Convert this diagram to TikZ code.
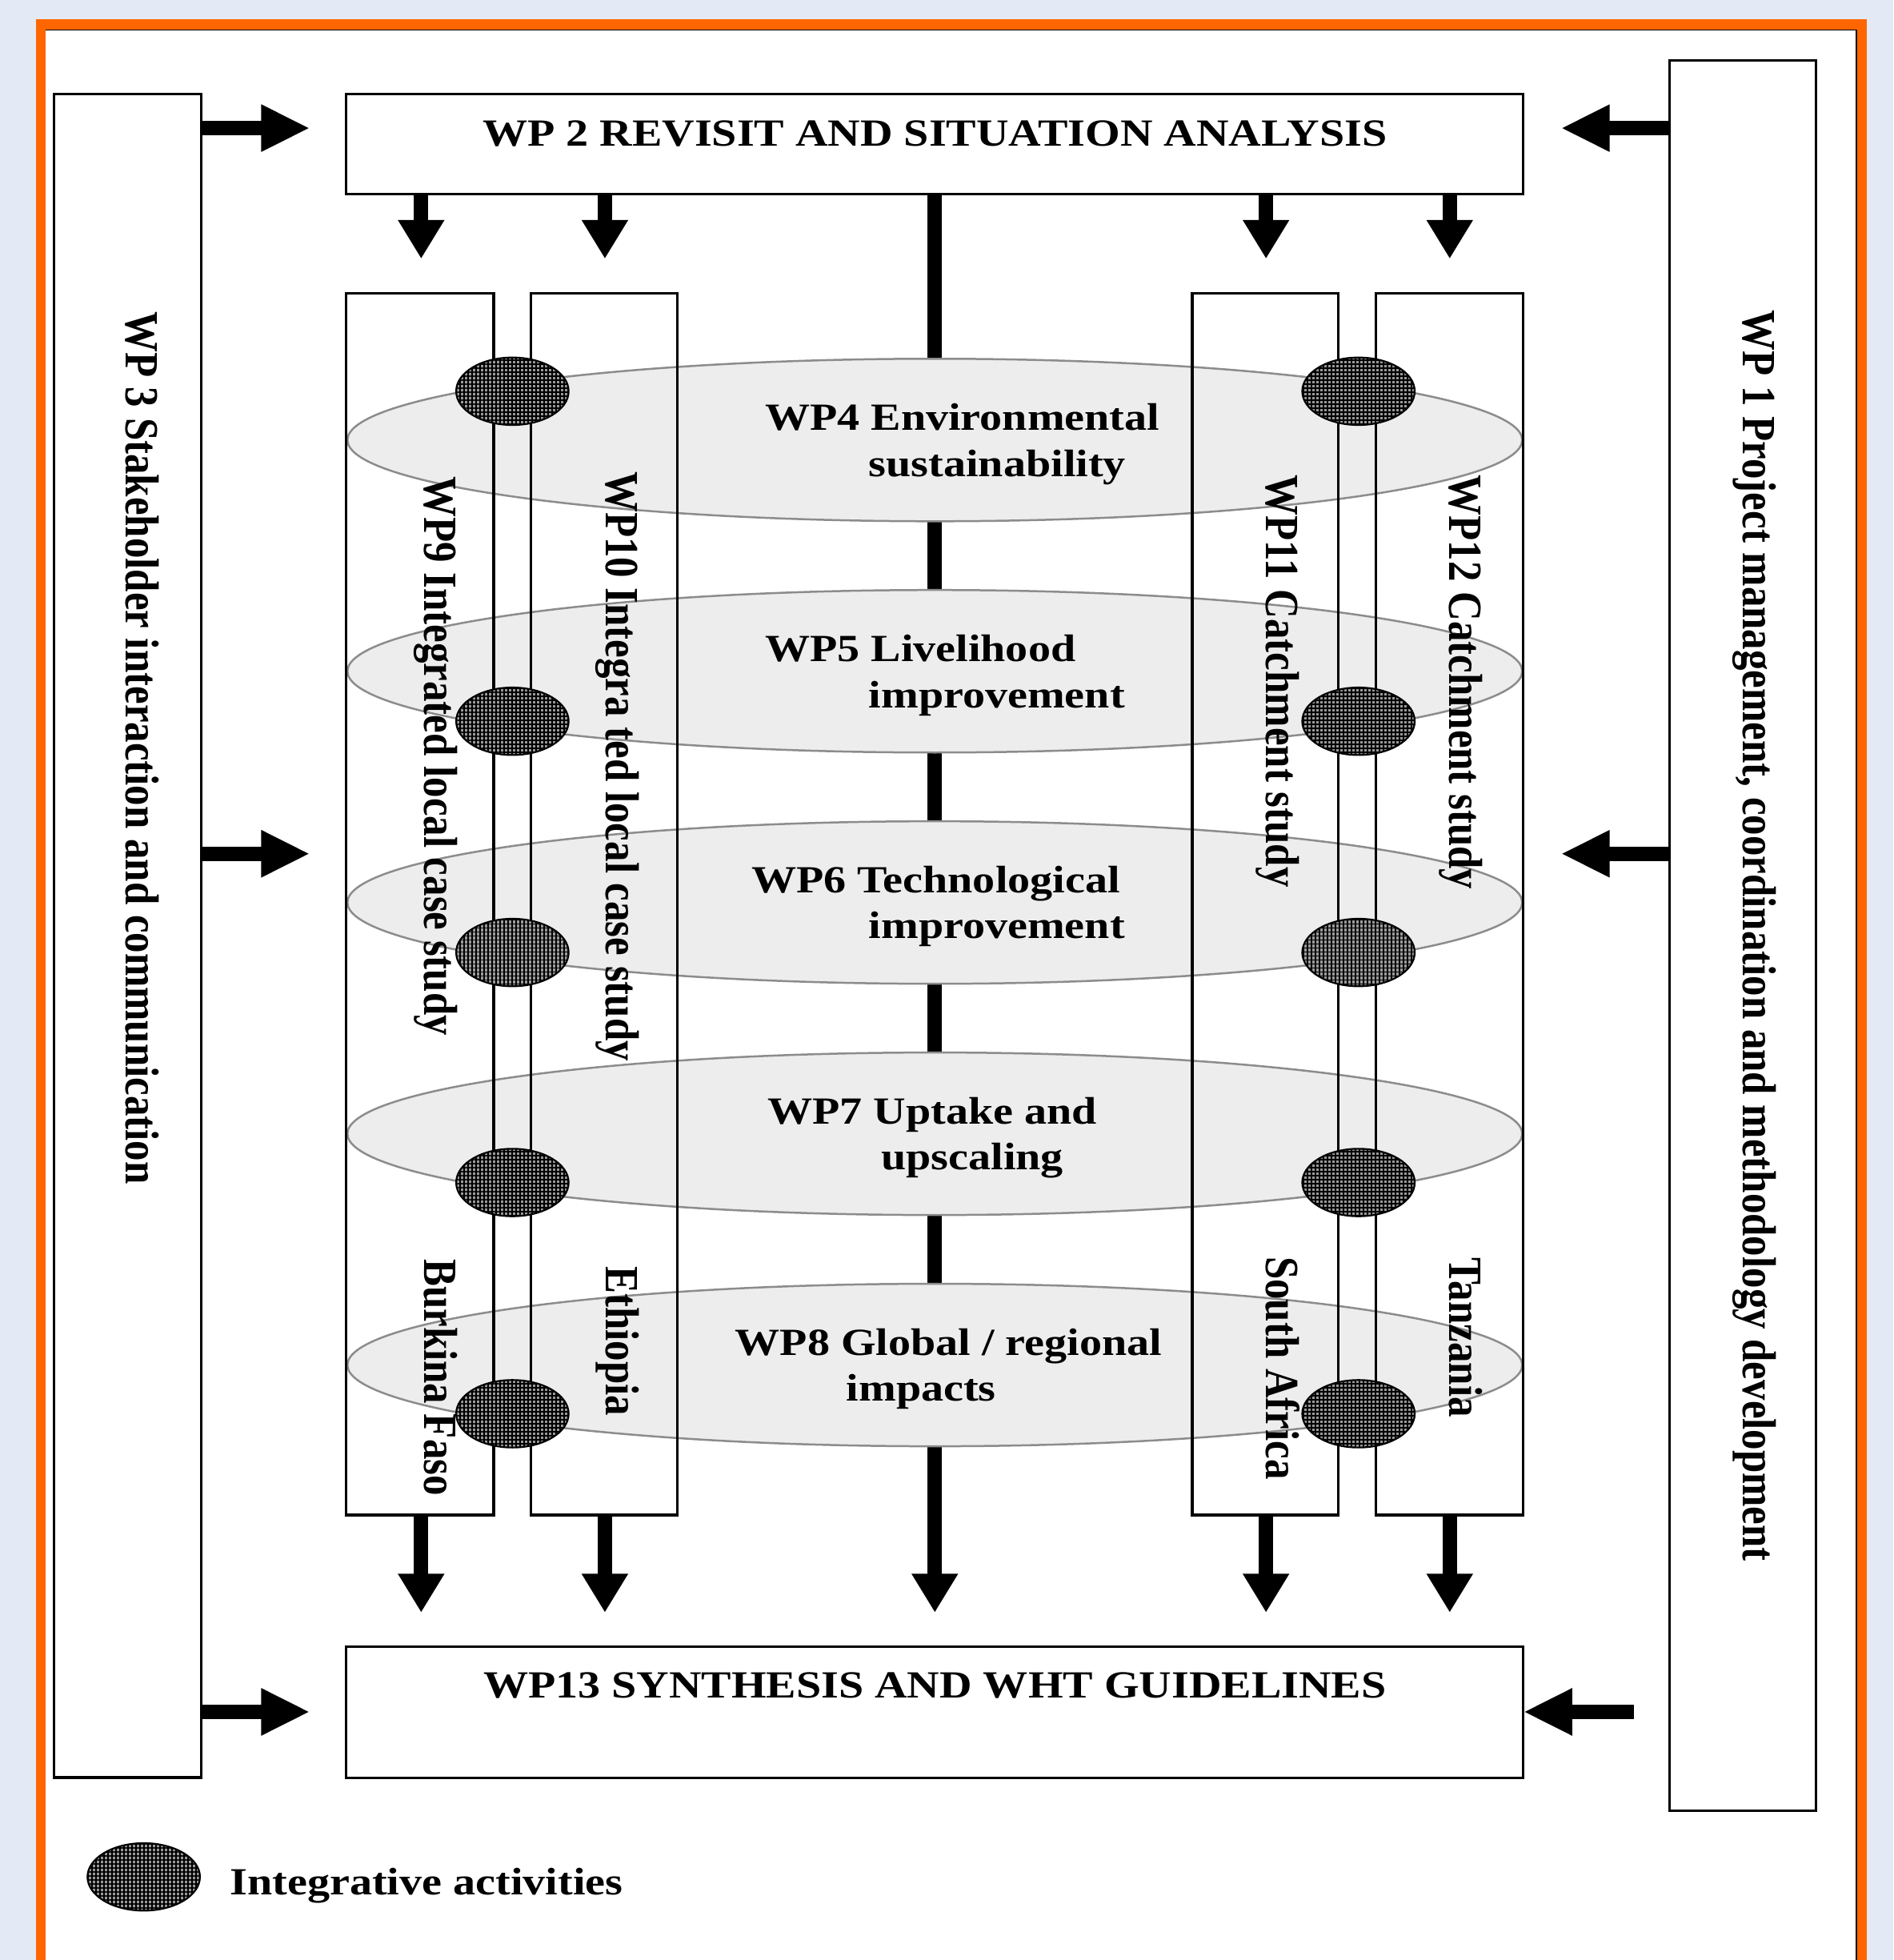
\documentclass[tikz,border=0pt]{standalone}
\usepackage{graphicx}
\usepackage{fontspec}
\setmainfont{Liberation Serif}
\newfontfamily\hfont{Liberation Serif}[FakeStretch=1.17]
\usetikzlibrary{arrows.meta,shapes.geometric,patterns.meta}
\definecolor{bgblue}{RGB}{227,234,246}
\definecolor{frameorange}{RGB}{255,102,0}
\definecolor{ellfill}{RGB}{237,237,237}
\definecolor{elledge}{RGB}{140,140,140}
\begin{document}
\begin{tikzpicture}[x=1pt,y=-1pt,
  box/.style={draw=black,line width=2pt,inner sep=0pt,outer sep=0pt,anchor=north west},
  bigell/.style={shape=ellipse,fill=ellfill,draw=elledge,line width=1.6pt,minimum width=940pt,minimum height=130pt,inner sep=0pt},
  darkell/.style={shape=ellipse,fill=black!40,draw=black,line width=1.4pt,minimum width=90pt,minimum height=54pt,inner sep=0pt,
    postaction={pattern={Hatch[angle=0,distance=3.2pt,line width=1.2pt]},pattern color=black}},
  harr/.style={line width=11.5pt,-{Triangle[length=39pt,width=35pt]}},
  varr/.style={line width=11.5pt,-{Triangle[length=31pt,width=35pt]}},
  htext/.style={font=\hfont\bfseries\fontsize{30.7}{37}\selectfont,inner sep=0pt,anchor=base west},
  vtext/.style={font=\bfseries\fontsize{32.6}{37}\selectfont,inner sep=0pt,anchor=base west,rotate=-90},
]
\useasboundingbox (0,0) rectangle (1515,1568);
% background and frame
\fill[bgblue] (0,0) rectangle (1515,1568);
\fill[white] (32,20) rectangle (1490,1600);
\draw[frameorange,line width=8pt] (32.5,1600) -- (32.5,19.5) -- (1490,19.5) -- (1490,1600);
\draw[black,line width=1.2pt] (36.5,24) -- (1485.5,24) -- (1485.5,1600);

% outer boxes
\node[box,minimum width=118pt,minimum height=1347pt] (wp3) at (43,75) {};
\node[box,minimum width=117pt,minimum height=1400pt] (wp1) at (1336,48.5) {};
\node[box,minimum width=942pt,minimum height=80pt] (wp2) at (277,75) {};
\node[box,minimum width=942pt,minimum height=105pt] (wp13) at (277,1317.5) {};

% central connector (behind the ellipses)
\coordinate (cend) at (748,1290);
\draw[varr] (wp2.south -| cend) -- (cend);

% thematic ellipses
\node[bigell] (e4) at (748,352) {};
\node[bigell] (e5) at (748,537) {};
\node[bigell] (e6) at (748,722) {};
\node[bigell] (e7) at (748,907) {};
\node[bigell] (e8) at (748,1092) {};

% case study columns
\node[box,minimum width=118pt,minimum height=977.5pt] (wp9) at (277,234.5) {};
\node[box,minimum width=117pt,minimum height=977.5pt] (wp10) at (425,234.5) {};
\node[box,minimum width=117pt,minimum height=977.5pt] (wp11) at (954,234.5) {};
\node[box,minimum width=118pt,minimum height=977.5pt] (wp12) at (1101,234.5) {};

% integrative activities
\node[darkell] (d4l) at (410,313) {};
\node[darkell] (d4r) at (1087,313) {};
\node[darkell] (d5l) at (410,577) {};
\node[darkell] (d5r) at (1087,577) {};
\node[darkell] (d6l) at (410,762) {};
\node[darkell] (d6r) at (1087,762) {};
\node[darkell] (d7l) at (410,946) {};
\node[darkell] (d7r) at (1087,946) {};
\node[darkell] (d8l) at (410,1131) {};
\node[darkell] (d8r) at (1087,1131) {};

% horizontal arrows
\coordinate (la1) at (248,102.5);
\coordinate (la2) at (248,683);
\coordinate (la3) at (248,1369.5);
\draw[harr] (wp3.east |- la1) -- (la1);
\draw[harr] (wp3.east |- la2) -- (la2);
\draw[harr] (wp3.east |- la3) -- (la3);
\coordinate (ra1) at (1249,102.5);
\coordinate (ra2) at (1249,683);
\coordinate (ra3) at (1307.5,1369.5);
\draw[harr] (wp1.west |- ra1) -- (ra1);
\draw[harr] (wp1.west |- ra2) -- (ra2);
\draw[harr] (ra3) -- (wp13.east |- ra3);

% down arrows from WP2
\coordinate (ta1) at (337,207);
\coordinate (ta2) at (484,207);
\coordinate (ta3) at (1013,207);
\coordinate (ta4) at (1160,207);
\foreach \c in {ta1,ta2,ta3,ta4} \draw[varr] (wp2.south -| \c) -- (\c);

% down arrows to WP13
\coordinate (ba1) at (337,1290);
\coordinate (ba2) at (484,1290);
\coordinate (ba3) at (1013,1290);
\coordinate (ba4) at (1160,1290);
\draw[varr] (wp9.south -| ba1) -- (ba1);
\draw[varr] (wp10.south -| ba2) -- (ba2);
\draw[varr] (wp11.south -| ba3) -- (ba3);
\draw[varr] (wp12.south -| ba4) -- (ba4);

% horizontal texts
\node[htext,anchor=base] (t2) at (748,117) {WP 2 REVISIT AND SITUATION ANALYSIS};
\node[htext,anchor=base] (t13) at (748,1358.5) {WP13 SYNTHESIS AND WHT GUIDELINES};
\node[htext] (t4a) at (612,344) {WP4 Environmental};
\node[htext] (t4b) at (695,381) {sustainability};
\node[htext] (t5a) at (612,529) {WP5 Livelihood};
\node[htext] (t5b) at (695,566) {improvement};
\node[htext] (t6a) at (601,714) {WP6 Technological};
\node[htext] (t6b) at (695,751) {improvement};
\node[htext] (t7a) at (614,899) {WP7 Uptake and};
\node[htext] (t7b) at (705,936) {upscaling};
\node[htext] (t8a) at (588,1084) {WP8 Global / regional};
\node[htext] (t8b) at (677,1121) {impacts};

% vertical texts
\node[vtext] (t3) at (101,249) {\scalebox{1}[1.17]{WP 3 Stakeholder interaction and communication}};
\node[vtext] (t1) at (1394.5,248) {\scalebox{1}[1.17]{WP 1 Project management, coordination and methodology development}};
\node[vtext] (t9) at (339.5,381) {\scalebox{1}[1.17]{WP9 Integrated local case study}};
\node[vtext] (t9c) at (339.5,1007) {\scalebox{1}[1.17]{Burkina Faso}};
\node[vtext] (t10) at (485,377) {\scalebox{1}[1.17]{WP10 Integra ted local case study}};
\node[vtext] (t10c) at (485,1013) {\scalebox{1}[1.17]{Ethiopia}};
\node[vtext] (t11) at (1013,380) {\scalebox{1}[1.17]{WP11 Catchment study}};
\node[vtext] (t11c) at (1013,1005) {\scalebox{1}[1.17]{South Africa}};
\node[vtext] (t12) at (1160,380) {\scalebox{1}[1.17]{WP12 Catchment study}};
\node[vtext] (t12c) at (1160,1006) {\scalebox{1}[1.17]{Tanzania}};

% legend
\node[darkell] (legell) at (115,1501.5) {};
\node[htext] (legtxt) at (184,1516) {Integrative activities};
\end{tikzpicture}
\end{document}
